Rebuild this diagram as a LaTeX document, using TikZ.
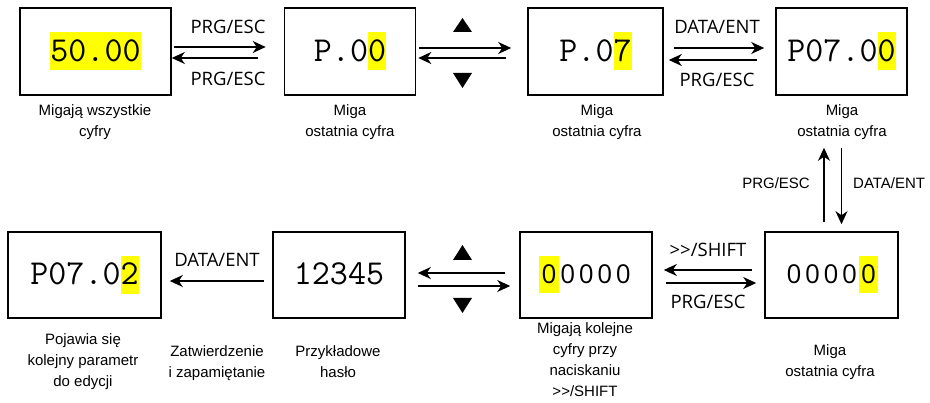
\documentclass[tikz,border=0pt]{standalone}
\usepackage{fontspec}
\setmainfont{Liberation Sans}
\newfontfamily\labfont{Open Sans}
\newfontfamily\digfont{Open Sans}
\usetikzlibrary{arrows.meta}
\definecolor{hly}{RGB}{255,255,0}
\newcommand\hlm[1]{{\setlength\fboxsep{0pt}\colorbox{hly}{\rule[-9pt]{0pt}{38pt}#1}}}
\newcommand\stm{\rule[-9pt]{0pt}{38pt}}
\newcommand\dz{\makebox[18.5pt]{0}}
\newcommand\hld[1]{{\setlength\fboxsep{0pt}\colorbox{hly}{\rule[-9.5pt]{0pt}{37pt}\makebox[19.3pt]{#1}}}}
\tikzset{
  disp/.style={draw, line width=1.6pt, inner sep=0pt, minimum height=87pt, font=\fontsize{35}{35}\ttfamily},
  dispd/.style={draw, line width=1.6pt, inner sep=0pt, minimum height=86pt, font=\fontsize{26}{26}\digfont},
  lab/.style={inner sep=0pt, font=\fontsize{18.5}{18.5}\labfont},
  capt/.style={inner sep=0pt, align=center, anchor=north, font=\fontsize{15}{21}\selectfont},
  arr/.style={line width=1.2pt, -{Stealth[length=13pt,width=12pt,inset=4pt]}},
  tri/.style={fill=black}
}
\begin{document}
\begin{tikzpicture}[x=1pt,y=-1pt]
\useasboundingbox (0,0) rectangle (930,403);
% top row boxes
\node[disp, minimum width=151pt] (b1) at (95.5,51.5) {\hlm{50.00}};
\node[disp, minimum width=131pt] (b2) at (350,51.5) {\stm P.0\hlm{0}};
\node[disp, minimum width=135pt] (b3) at (595.5,51.5) {\stm P.0\hlm{7}};
\node[disp, minimum width=131pt] (b4) at (841.5,51.5) {\stm P07.0\hlm{0}};
% bottom row boxes
\node[disp, minimum width=153pt, minimum height=86pt] (b5) at (84.5,275) {\stm P07.0\hlm{2}};
\node[disp, minimum width=132pt, minimum height=86pt] (b6) at (339,275) {\stm 12345};
\node[dispd, minimum width=132pt] (b7) at (586,275) {\hld{0}\dz\dz\dz\dz};
\node[dispd, minimum width=133pt] (b8) at (831.5,275) {\dz\dz\dz\dz\hld{0}};
% captions
\node[capt] (c1) at (95,104) {Migają wszystkie\\cyfry};
\node[capt] (c2) at (350,104) {Miga\\ostatnia cyfra};
\node[capt] (c3) at (597,104) {Miga\\ostatnia cyfra};
\node[capt] (c4) at (842,104) {Miga\\ostatnia cyfra};
\node[capt] (c5) at (83,333) {Pojawia się\\kolejny parametr\\do edycji};
\node[capt] (c6) at (217,345) {Zatwierdzenie\\i zapamiętanie};
\node[capt] (c7) at (338,345) {Przykładowe\\hasło};
\node[capt] (c8) at (585,322) {Migają kolejne\\cyfry przy\\naciskaniu\\>{}>/SHIFT};
\node[capt] (c9) at (830,344) {Miga\\ostatnia cyfra};
% arrow labels
\node[lab] (l1) at (228,27) {PRG/ESC};
\node[lab] (l2) at (228,79) {PRG/ESC};
\node[lab] (l3) at (717,27) {DATA/ENT};
\node[lab] (l4) at (717,80) {PRG/ESC};
\node[lab] (l5) at (708,250) {>{}>/SHIFT};
\node[lab] (l6) at (708,302) {PRG/ESC};
\node[lab] (l7) at (217,260) {DATA/ENT};
\node[inner sep=0pt, anchor=east, font=\fontsize{15}{15}\selectfont] (l8) at (810,183) {PRG/ESC};
\node[inner sep=0pt, anchor=west, font=\fontsize{15}{15}\selectfont] (l9) at (853,183) {DATA/ENT};
% top arrows
\draw[arr, shorten <=2pt, shorten >=18pt] ([yshift=4.5pt]b1.east) -- ([yshift=4.5pt]b1.east -| b2.west);
\draw[arr, shorten <=26pt, shorten >=0pt] ([yshift=-6.5pt]b2.west) -- ([yshift=-6.5pt]b2.west -| b1.east);
\draw[arr, shorten <=3pt, shorten >=16pt] ([yshift=3.5pt]b2.east) -- ([yshift=3.5pt]b2.east -| b3.west);
\draw[arr, shorten <=21pt, shorten >=2pt] ([yshift=-6.5pt]b3.west) -- ([yshift=-6.5pt]b3.west -| b2.east);
\draw[arr, shorten <=10pt, shorten >=11pt] ([yshift=3.5pt]b3.east) -- ([yshift=3.5pt]b3.east -| b4.west);
\draw[arr, shorten <=18pt, shorten >=5pt] ([yshift=-8.5pt]b4.west) -- ([yshift=-8.5pt]b4.west -| b3.east);
% vertical arrows
\draw[arr, shorten <=9pt, shorten >=52pt] ([xshift=-7.5pt]b8.north) -- ([xshift=-7.5pt]b8.north |- b4.south);
\draw[arr, shorten <=52pt, shorten >=7pt] (b4.south) -- (b4.south |- b8.north);
% bottom arrows
\draw[arr, shorten <=12pt, shorten >=11pt] ([yshift=5pt]b8.west) -- ([yshift=5pt]b8.west -| b7.east);
\draw[arr, shorten <=13pt, shorten >=8pt] ([yshift=-8pt]b7.east) -- ([yshift=-8pt]b7.east -| b8.west);
\draw[arr, shorten <=14pt, shorten >=12pt] ([yshift=2pt]b7.west) -- ([yshift=2pt]b7.west -| b6.east);
\draw[arr, shorten <=12pt, shorten >=9pt] ([yshift=-11pt]b6.east) -- ([yshift=-11pt]b6.east -| b7.west);
\draw[arr, shorten <=8pt, shorten >=8pt] ([yshift=-6pt]b6.west) -- ([yshift=-6pt]b6.west -| b5.east);
% triangles
\fill[tri] (453,32) -- (472,32) -- (462.5,18) -- cycle;
\fill[tri] (453,73) -- (472,73) -- (462.5,88) -- cycle;
\fill[tri] (453,260) -- (472,260) -- (462.5,245) -- cycle;
\fill[tri] (453,298) -- (472,298) -- (462.5,313) -- cycle;
\end{tikzpicture}
\end{document}
